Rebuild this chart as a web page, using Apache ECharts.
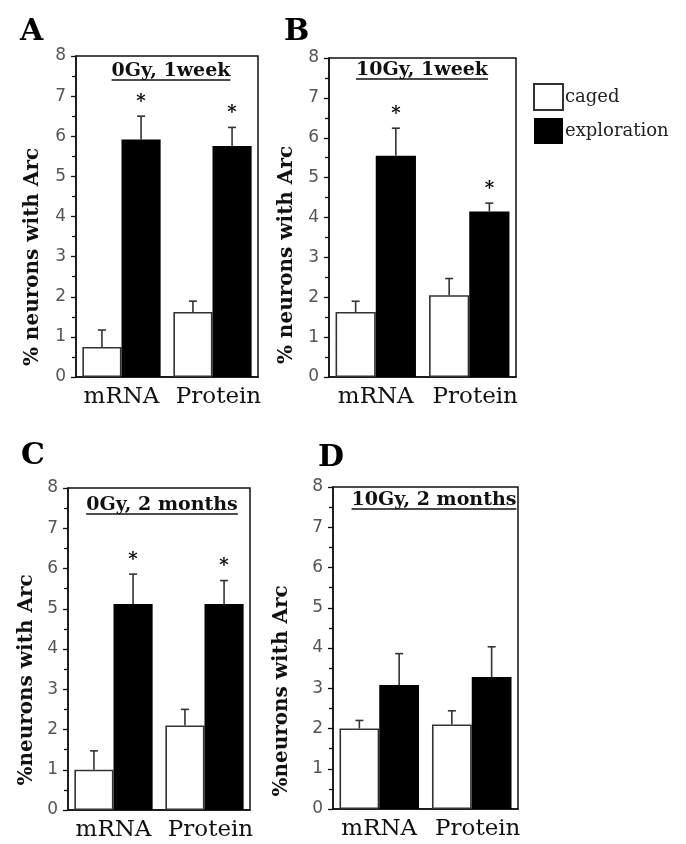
<!DOCTYPE html>
<html>
<head>
<meta charset="utf-8">
<script src="https://cdn.jsdelivr.net/npm/echarts@6/dist/echarts.min.js"></script>
<style>
html,body{margin:0;padding:0;background:#fff;}
#chart{width:686px;height:844px;}
</style>
</head>
<body>
<div id="chart"></div>
<script>
// ---- data ----
const categories = ['mRNA', 'Protein'];
const panelLetters = ['A', 'B', 'C', 'D'];
const panelTitles = ['0Gy, 1week', '10Gy, 1week', '0Gy, 2 months', '10Gy, 2 months'];
const yAxisNames = ['% neurons with Arc', '% neurons with Arc', '%neurons with Arc', '%neurons with Arc'];
const yTicks = [0, 1, 2, 3, 4, 5, 6, 7, 8];

const cagedA = [0.75, 1.62];
const cagedErrA = [0.42, 0.27];
const explA = [5.92, 5.76];
const explErrA = [0.58, 0.46];
const starsA = [1, 1];

const cagedB = [1.63, 2.05];
const cagedErrB = [0.27, 0.42];
const explB = [5.55, 4.15];
const explErrB = [0.69, 0.21];
const starsB = [1, 1];

const cagedC = [1.0, 2.1];
const cagedErrC = [0.47, 0.40];
const explC = [5.12, 5.12];
const explErrC = [0.74, 0.58];
const starsC = [1, 1];

const cagedD = [2.0, 2.1];
const cagedErrD = [0.20, 0.34];
const explD = [3.08, 3.28];
const explErrD = [0.78, 0.75];
const starsD = [0, 0];

const panels = [
  {caged: cagedA, cErr: cagedErrA, expl: explA, eErr: explErrA, stars: starsA},
  {caged: cagedB, cErr: cagedErrB, expl: explB, eErr: explErrB, stars: starsB},
  {caged: cagedC, cErr: cagedErrC, expl: explC, eErr: explErrC, stars: starsC},
  {caged: cagedD, cErr: cagedErrD, expl: explD, eErr: explErrD, stars: starsD}
];

// ---- layout (pixels) ----
const grids = [
  {left: 76, top: 56, width: 182, height: 321},
  {left: 329, top: 58, width: 187, height: 319},
  {left: 68, top: 488, width: 182, height: 322},
  {left: 333, top: 487, width: 185, height: 322}
];
const titlePos = [[171, 71], [422, 70], [162, 505], [434, 500]];
const letterPos = [[20, 17], [284, 17], [21, 441], [318, 443]];
const yNamePos = [[33, 257], [287, 255], [27, 680], [282, 691]];

const CAT_GAP = 0.14;
const SERIF = '"DejaVu Serif", "Liberation Serif", serif';
const SANS = '"DejaVu Sans", sans-serif';
const TITLE_FONT = 'bold 19px ' + SERIF;

const chart = echarts.init(document.getElementById('chart'), null, {renderer: 'canvas'});

function errRender(sign, showStars) {
  return function (params, api) {
    const ci = api.value(0), v = api.value(1), e = api.value(2), st = api.value(3);
    const band = api.size([1, 0])[0];
    const bw = band * (1 - CAT_GAP) / 2;
    const base = api.coord([ci, v]);
    const top = api.coord([ci, v + e]);
    const x = base[0] + sign * bw / 2;
    const style = {stroke: '#333', lineWidth: 1.6};
    const children = [
      {type: 'line', shape: {x1: x, y1: base[1], x2: x, y2: top[1]}, style: style},
      {type: 'line', shape: {x1: x - 4, y1: top[1], x2: x + 4, y2: top[1]}, style: style}
    ];
    if (showStars && st) {
      children.push({type: 'text', x: x, y: top[1] - 14,
        style: {text: '*', font: 'bold 18px ' + SERIF, fill: '#000', align: 'center', verticalAlign: 'middle'}});
    }
    return {type: 'group', children: children};
  };
}

const option = {
  animation: false,
  backgroundColor: '#fff',
  legend: {
    orient: 'vertical', left: 528, top: 78,
    itemWidth: 29, itemHeight: 26, itemGap: 7,
    icon: 'rect',
    data: ['caged', 'exploration'],
    textStyle: {fontFamily: SERIF, fontSize: 18, color: '#222', padding: [0, 0, 0, -3]},
    selectedMode: false
  },
  grid: [], xAxis: [], yAxis: [], series: [], graphic: []
};

grids.forEach((g, i) => {
  option.grid.push(Object.assign({show: true, borderColor: '#111', borderWidth: 1.5, backgroundColor: 'transparent'}, g));
  option.xAxis.push({
    type: 'category', gridIndex: i, data: categories,
    axisLine: {lineStyle: {color: '#111', width: 1.5}},
    axisTick: {show: false},
    axisLabel: {interval: 0, hideOverlap: false, fontFamily: SERIF, fontSize: 23, color: '#111', margin: 9,
      formatter: (v, idx) => (idx === 1 ? '{p|' + v + '}' : v),
      rich: {p: {fontFamily: SERIF, fontSize: 23, color: '#111', padding: [0, 0, 0, 12]}}}
  });
  option.yAxis.push({
    type: 'value', gridIndex: i, min: 0, max: 8, interval: 1,
    axisLine: {show: true, lineStyle: {color: '#111', width: 1.5}},
    axisTick: {show: true, length: 5, lineStyle: {color: '#111', width: 1.3}},
    minorTick: {show: true, splitNumber: 2, length: 4, lineStyle: {color: '#111', width: 1.3}},
    splitLine: {show: false},
    axisLabel: {fontFamily: SANS, fontSize: 17, color: '#555', margin: 10,
      formatter: v => (yTicks.indexOf(v) >= 0 ? String(v) : '')}
  });
  const p = panels[i];
  option.series.push({
    name: 'caged', type: 'bar', xAxisIndex: i, yAxisIndex: i,
    data: p.caged, barGap: '0%', barCategoryGap: (CAT_GAP * 100) + '%',
    itemStyle: {color: '#fff', borderColor: '#333', borderWidth: 1.6}
  });
  option.series.push({
    name: 'exploration', type: 'bar', xAxisIndex: i, yAxisIndex: i,
    data: p.expl, barGap: '0%', barCategoryGap: (CAT_GAP * 100) + '%',
    itemStyle: {color: '#000', borderColor: '#000', borderWidth: 0}
  });
  option.series.push({
    type: 'custom', xAxisIndex: i, yAxisIndex: i, z: 5,
    renderItem: errRender(-1, false),
    data: categories.map((c, k) => [k, p.caged[k], p.cErr[k], 0])
  });
  option.series.push({
    type: 'custom', xAxisIndex: i, yAxisIndex: i, z: 5,
    renderItem: errRender(1, true),
    data: categories.map((c, k) => [k, p.expl[k], p.eErr[k], p.stars[k]])
  });
  // panel letter
  option.graphic.push({type: 'text', left: letterPos[i][0], top: letterPos[i][1],
    style: {text: panelLetters[i], font: 'bold 30px ' + SERIF, fill: '#000'}});
  // y-axis name
  option.graphic.push({type: 'text', x: yNamePos[i][0], y: yNamePos[i][1], rotation: Math.PI / 2,
    style: {text: yAxisNames[i], font: 'bold 20px ' + SERIF, fill: '#111', align: 'center', verticalAlign: 'middle'}});
  // panel title
  option.graphic.push({type: 'text', x: titlePos[i][0], y: titlePos[i][1],
    style: {text: panelTitles[i], font: TITLE_FONT, fill: '#111', align: 'center', verticalAlign: 'middle'}});
});

chart.setOption(option);

// underline titles based on measured text width
const ctx = document.createElement('canvas').getContext('2d');
ctx.font = TITLE_FONT;
const lines = panelTitles.map((t, i) => {
  const w = ctx.measureText(t).width;
  return {type: 'line', shape: {x1: titlePos[i][0] - w / 2, y1: titlePos[i][1] + 9, x2: titlePos[i][0] + w / 2, y2: titlePos[i][1] + 9},
    style: {stroke: '#111', lineWidth: 1.5}};
});
chart.setOption({graphic: option.graphic.concat(lines)});
</script>
</body>
</html>
